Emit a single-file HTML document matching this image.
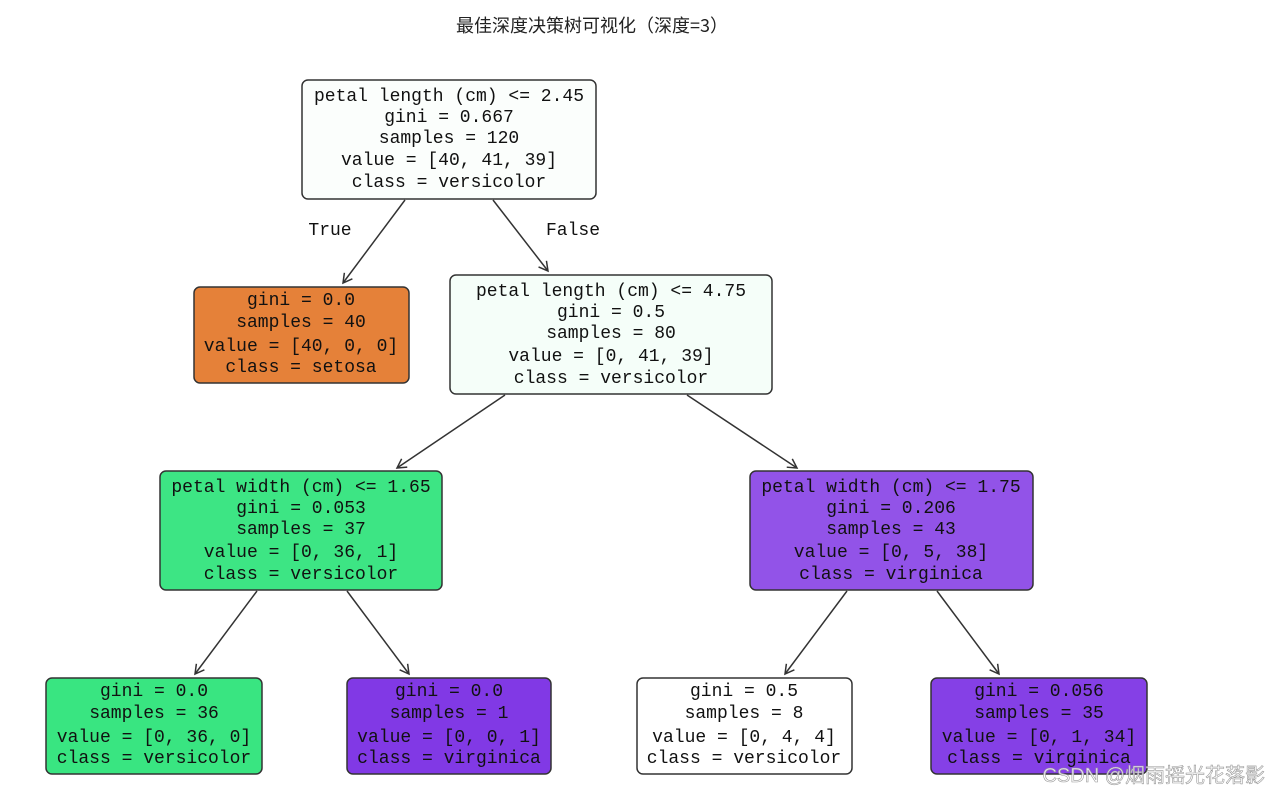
<!DOCTYPE html>
<html><head><meta charset="utf-8"><style>
html,body{margin:0;padding:0;background:#fff;}
svg{display:block}
.t{font-family:"Liberation Mono","Noto Sans CJK SC",monospace;font-size:18px;fill:#111;text-anchor:middle;dominant-baseline:central}
.n{stroke:#333;stroke-width:1.5}
.a{stroke:#333;stroke-width:1.5;fill:none}
</style></head><body>
<svg width="1269" height="797" viewBox="0 0 1269 797" xmlns="http://www.w3.org/2000/svg">
<defs><marker id="m" markerWidth="14" markerHeight="14" refX="10" refY="6" orient="auto" markerUnits="userSpaceOnUse"><path d="M1,1 L10,6 L1,11" fill="none" stroke="#333" stroke-width="1.5"/></marker></defs>
<text x="592" y="25" style="font-family:'Noto Sans CJK SC',sans-serif;font-size:18px;fill:#222;text-anchor:middle;dominant-baseline:central">最佳深度决策树可视化（深度=3）</text>

<g class="a">
<line x1="405" y1="200" x2="343" y2="283" marker-end="url(#m)"/>
<line x1="493" y1="200" x2="548" y2="271" marker-end="url(#m)"/>
<line x1="505" y1="395" x2="397" y2="468" marker-end="url(#m)"/>
<line x1="687" y1="395" x2="797" y2="468" marker-end="url(#m)"/>
<line x1="257" y1="591" x2="195" y2="674" marker-end="url(#m)"/>
<line x1="347" y1="591" x2="409" y2="674" marker-end="url(#m)"/>
<line x1="847" y1="591" x2="785" y2="674" marker-end="url(#m)"/>
<line x1="937" y1="591" x2="999" y2="674" marker-end="url(#m)"/>
</g>
<text class="t" x="330" y="231">True</text>
<text class="t" x="573" y="231">False</text>

<rect class="n" x="302" y="80" width="294" height="119" rx="6" fill="#fbfefc"/>
<text class="t" x="449" y="97">petal length (cm) &lt;= 2.45</text>
<text class="t" x="449" y="118">gini = 0.667</text>
<text class="t" x="449" y="139">samples = 120</text>
<text class="t" x="449" y="161">value = [40, 41, 39]</text>
<text class="t" x="449" y="183">class = versicolor</text>

<rect class="n" x="194" y="287" width="215" height="96" rx="6" fill="#e58139"/>
<text class="t" x="301" y="301">gini = 0.0</text>
<text class="t" x="301" y="323">samples = 40</text>
<text class="t" x="301" y="347">value = [40, 0, 0]</text>
<text class="t" x="301" y="368">class = setosa</text>

<rect class="n" x="450" y="275" width="322" height="119" rx="6" fill="#f5fef9"/>
<text class="t" x="611" y="292">petal length (cm) &lt;= 4.75</text>
<text class="t" x="611" y="313">gini = 0.5</text>
<text class="t" x="611" y="334">samples = 80</text>
<text class="t" x="611" y="357">value = [0, 41, 39]</text>
<text class="t" x="611" y="379">class = versicolor</text>

<rect class="n" x="160" y="471" width="282" height="119" rx="6" fill="#3de584"/>
<text class="t" x="301" y="488">petal width (cm) &lt;= 1.65</text>
<text class="t" x="301" y="509">gini = 0.053</text>
<text class="t" x="301" y="530">samples = 37</text>
<text class="t" x="301" y="553">value = [0, 36, 1]</text>
<text class="t" x="301" y="575">class = versicolor</text>

<rect class="n" x="750" y="471" width="283" height="119" rx="6" fill="#9253e8"/>
<text class="t" x="891" y="488">petal width (cm) &lt;= 1.75</text>
<text class="t" x="891" y="509">gini = 0.206</text>
<text class="t" x="891" y="530">samples = 43</text>
<text class="t" x="891" y="553">value = [0, 5, 38]</text>
<text class="t" x="891" y="575">class = virginica</text>

<rect class="n" x="46" y="678" width="216" height="96" rx="6" fill="#39e581"/>
<text class="t" x="154" y="692">gini = 0.0</text>
<text class="t" x="154" y="714">samples = 36</text>
<text class="t" x="154" y="738">value = [0, 36, 0]</text>
<text class="t" x="154" y="759">class = versicolor</text>

<rect class="n" x="347" y="678" width="204" height="96" rx="6" fill="#8139e5"/>
<text class="t" x="449" y="692">gini = 0.0</text>
<text class="t" x="449" y="714">samples = 1</text>
<text class="t" x="449" y="738">value = [0, 0, 1]</text>
<text class="t" x="449" y="759">class = virginica</text>

<rect class="n" x="637" y="678" width="215" height="96" rx="6" fill="#ffffff"/>
<text class="t" x="744" y="692">gini = 0.5</text>
<text class="t" x="744" y="714">samples = 8</text>
<text class="t" x="744" y="738">value = [0, 4, 4]</text>
<text class="t" x="744" y="759">class = versicolor</text>

<rect class="n" x="931" y="678" width="216" height="96" rx="6" fill="#8540e6"/>
<text class="t" x="1039" y="692">gini = 0.056</text>
<text class="t" x="1039" y="714">samples = 35</text>
<text class="t" x="1039" y="738">value = [0, 1, 34]</text>
<text class="t" x="1039" y="759">class = virginica</text>

<text x="1265" y="776" style="font-family:'Liberation Sans','Noto Sans CJK SC',sans-serif;font-size:20px;fill:#fff;fill-opacity:0.8;stroke:#999;stroke-width:0.6;text-anchor:end;dominant-baseline:central">CSDN @烟雨摇光花落影</text>
</svg>
</body></html>
